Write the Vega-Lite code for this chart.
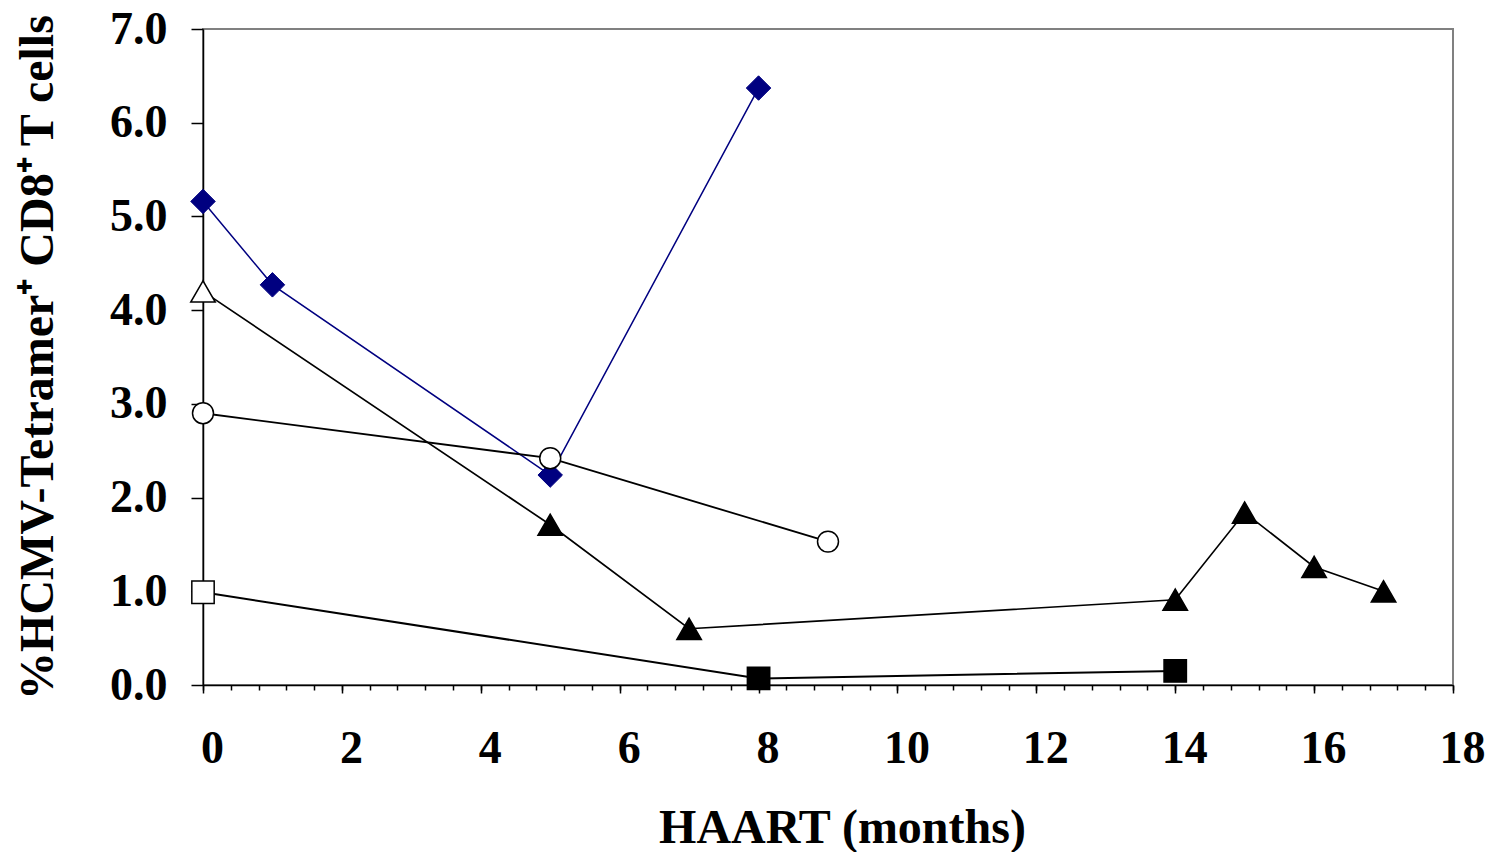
{
  "$schema": "https://vega.github.io/schema/vega-lite/v6.json",
  "autosize": {"type": "none"},
  "width": 1250,
  "height": 656,
  "padding": {"left": 203, "top": 29, "right": 44, "bottom": 167},
  "background": "white",
  "config": {
    "view": {"stroke": "#808080", "strokeWidth": 2},
    "axis": {
      "grid": false,
      "labelFont": "Liberation Serif",
      "labelFontWeight": "bold",
      "labelColor": "black",
      "titleFont": "Liberation Serif",
      "titleFontWeight": "bold",
      "titleColor": "black",
      "domainColor": "black",
      "domainWidth": 1.5,
      "tickColor": "black",
      "tickWidth": 1.5,
      "labelOverlap": false,
      "labelFlush": false,
      "labelBound": false
    }
  },
  "data": {
    "values": [
      {"series": "A", "month": 0, "value": 5.16, "symbol": "filled"},
      {"series": "A", "month": 1, "value": 4.27, "symbol": "filled"},
      {"series": "A", "month": 5, "value": 2.24, "symbol": "filled"},
      {"series": "A", "month": 8, "value": 6.37, "symbol": "filled"},
      {"series": "B", "month": 0, "value": 4.2, "symbol": "open"},
      {"series": "B", "month": 5, "value": 1.71, "symbol": "filled"},
      {"series": "B", "month": 7, "value": 0.6, "symbol": "filled"},
      {"series": "B", "month": 14, "value": 0.91, "symbol": "filled"},
      {"series": "B", "month": 15, "value": 1.84, "symbol": "filled"},
      {"series": "B", "month": 16, "value": 1.26, "symbol": "filled"},
      {"series": "B", "month": 17, "value": 1.0, "symbol": "filled"},
      {"series": "C", "month": 0, "value": 2.9, "symbol": "open"},
      {"series": "C", "month": 5, "value": 2.42, "symbol": "open"},
      {"series": "C", "month": 9, "value": 1.53, "symbol": "open"},
      {"series": "D", "month": 0, "value": 0.99, "symbol": "open"},
      {"series": "D", "month": 8, "value": 0.07, "symbol": "filled"},
      {"series": "D", "month": 14, "value": 0.15, "symbol": "filled"}
    ]
  },
  "resolve": {"axis": {"x": "independent"}},
  "layer": [
    {
      "mark": {"type": "line", "clip": false},
      "encoding": {
        "x": {
          "field": "month", "type": "quantitative",
          "scale": {"domain": [0, 18], "nice": false, "zero": false},
          "axis": {
            "orient": "bottom",
            "values": [0, 2, 4, 6, 8, 10, 12, 14, 16, 18],
            "tickSize": 8,
            "labelFontSize": 46,
            "labelBaseline": "alphabetic",
            "labelPadding": 69,
            "labelOffset": 9,
            "title": "HAART (months)",
            "titleFontSize": 48,
            "titleX": 639,
            "titleY": 157,
            "titleAlign": "center",
            "titleBaseline": "alphabetic"
          }
        },
        "y": {
          "field": "value", "type": "quantitative",
          "scale": {"domain": [0, 7], "nice": false},
          "axis": {
            "values": [0, 1, 2, 3, 4, 5, 6, 7],
            "format": ".1f",
            "tickSize": 12,
            "labelFontSize": 46,
            "labelPadding": 24,
            "title": "%HCMV-Tetramer⁺ CD8⁺ T cells",
            "titleFontSize": 48,
            "titleAngle": 270,
            "titleX": -151,
            "titleY": 328,
            "titleAlign": "center",
            "titleBaseline": "alphabetic"
          }
        },
        "detail": {"field": "series", "type": "nominal"},
        "color": {
          "field": "series", "type": "nominal",
          "scale": {"domain": ["A", "B", "C", "D"], "range": ["#000080", "black", "black", "black"]},
          "legend": null
        },
        "strokeWidth": {
          "field": "series", "type": "nominal",
          "scale": {"domain": ["A", "B", "C", "D"], "range": [1.5, 2, 2, 2]},
          "legend": null
        }
      }
    },
    {
      "transform": [{"filter": "datum.series === 'A'"}],
      "mark": {"type": "point", "shape": "diamond", "filled": true, "size": 600, "opacity": 1, "stroke": "#000080", "strokeWidth": 1, "clip": false},
      "encoding": {
        "x": {
          "field": "month", "type": "quantitative",
          "axis": {
            "orient": "bottom",
            "values": [0, 0.4, 0.8, 1.2, 1.6, 2, 2.4, 2.8, 3.2, 3.6, 4, 4.4, 4.8, 5.2, 5.6, 6, 6.4, 6.8, 7.2, 7.6, 8, 8.4, 8.8, 9.2, 9.6, 10, 10.4, 10.8, 11.2, 11.6, 12, 12.4, 12.8, 13.2, 13.6, 14, 14.4, 14.8, 15.2, 15.6, 16, 16.4, 16.8, 17.2, 17.6, 18],
            "labels": false,
            "domain": false,
            "tickSize": 5,
            "title": null
          }
        },
        "y": {"field": "value", "type": "quantitative"},
        "fill": {"value": "#000080"}
      }
    },
    {
      "transform": [{"filter": "datum.series === 'B'"}],
      "mark": {"type": "point", "shape": "triangle-up", "filled": true, "size": 600, "opacity": 1, "stroke": "black", "strokeWidth": 1.5, "clip": false},
      "encoding": {
        "x": {"field": "month", "type": "quantitative", "axis": null},
        "y": {"field": "value", "type": "quantitative"},
        "fill": {"condition": {"test": "datum.symbol === 'open'", "value": "white"}, "value": "black"}
      }
    },
    {
      "transform": [{"filter": "datum.series === 'D'"}],
      "mark": {"type": "point", "shape": "square", "filled": true, "size": 500, "opacity": 1, "stroke": "black", "strokeWidth": 1.5, "clip": false},
      "encoding": {
        "x": {"field": "month", "type": "quantitative", "axis": null},
        "y": {"field": "value", "type": "quantitative"},
        "fill": {"condition": {"test": "datum.symbol === 'open'", "value": "white"}, "value": "black"}
      }
    },
    {
      "transform": [{"filter": "datum.series === 'C'"}],
      "mark": {"type": "point", "shape": "circle", "filled": true, "size": 440, "opacity": 1, "stroke": "black", "strokeWidth": 1.5, "clip": false},
      "encoding": {
        "x": {"field": "month", "type": "quantitative", "axis": null},
        "y": {"field": "value", "type": "quantitative"},
        "fill": {"condition": {"test": "datum.symbol === 'open'", "value": "white"}, "value": "black"}
      }
    }
  ]
}
